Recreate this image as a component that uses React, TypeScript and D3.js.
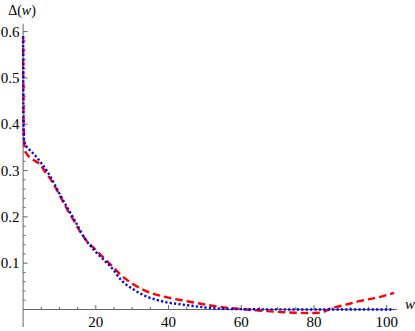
import React, { useEffect, useRef } from "react";
import * as d3 from "d3";

const redW = [0, 0.03, 0.08, 0.15, 0.3, 0.5, 1.0, 1.9, 3.0, 4.7, 6.0, 7.5, 8.8, 10.5, 12.0, 13.8, 15.7, 17.5, 19.8, 22.6, 24.8, 26.7, 30.4, 34, 38.6, 45, 50.6, 55.2, 60, 64, 68, 72, 75, 78, 81.5, 83, 84.6, 87, 90, 92.5, 95.6, 99, 102];
const redV = [0.59, 0.52, 0.45, 0.4, 0.36, 0.345, 0.336, 0.328, 0.322, 0.313, 0.298, 0.282, 0.265, 0.24, 0.218, 0.194, 0.168, 0.148, 0.13, 0.108, 0.091, 0.076, 0.054, 0.039, 0.028, 0.018, 0.01, 0.0045, 0.001, -0.002, -0.004, -0.006, -0.007, -0.0075, -0.007, -0.004, 0.0025, 0.007, 0.013, 0.018, 0.023, 0.029, 0.036];

const blueW = [0, 0.03, 0.06, 0.1, 0.2, 0.35, 1.0, 2.0, 3.7, 5.0, 6.5, 8.8, 10.2, 12.0, 14.3, 17.0, 19.8, 22.6, 24.8, 26.7, 30.4, 34, 38.6, 45, 50.6, 55.2, 60, 65, 70, 80, 90, 102];
const blueV = [0.59, 0.52, 0.46, 0.4, 0.37, 0.36, 0.351, 0.343, 0.329, 0.316, 0.3, 0.268, 0.247, 0.222, 0.191, 0.153, 0.126, 0.104, 0.086, 0.066, 0.043, 0.028, 0.017, 0.0095, 0.004, 0.0015, 0.0008, 0.0004, 0.0002, 0.0001, 0.0001, 0.0001];

const xTicks = [20, 40, 60, 80, 100];
const yTicks = [0.1, 0.2, 0.3, 0.4, 0.5, 0.6];

const App = () => {
  const ref = useRef<SVGSVGElement>(null);

  useEffect(() => {
    const svg = d3.select(ref.current);
    svg.selectAll("*").remove();

    const x = d3.scaleLinear().domain([0, 100]).range([23.1, 386.7]);
    const y = d3.scaleLinear().domain([0, 0.6]).range([309.5, 31.6]);
    const axisColor = "#666";
    const font = "'Liberation Serif', 'Times New Roman', serif";

    const g = svg.append("g");

    // axes lines
    g.append("line")
      .attr("x1", x(0)).attr("x2", x(102.8))
      .attr("y1", y(0)).attr("y2", y(0))
      .attr("stroke", axisColor).attr("stroke-width", 1);
    g.append("line")
      .attr("x1", x(0)).attr("x2", x(0))
      .attr("y1", y(-0.038)).attr("y2", y(0.617))
      .attr("stroke", axisColor).attr("stroke-width", 1);

    // x ticks: major every 20, minor every 5
    const xMinor = d3.range(5, 101, 5).filter((d) => d % 20 !== 0);
    g.selectAll(".xminor").data(xMinor).join("line")
      .attr("x1", (d) => x(d)).attr("x2", (d) => x(d))
      .attr("y1", y(0)).attr("y2", y(0) - 2.5)
      .attr("stroke", axisColor);
    g.selectAll(".xmajor").data(xTicks).join("line")
      .attr("x1", (d) => x(d)).attr("x2", (d) => x(d))
      .attr("y1", y(0)).attr("y2", y(0) - 4.5)
      .attr("stroke", axisColor);
    g.selectAll(".xlab").data(xTicks).join("text")
      .attr("x", (d) => x(d)).attr("y", 326.5)
      .attr("text-anchor", "middle")
      .attr("font-family", font).attr("font-size", 15)
      .text((d) => d);

    // y ticks: major every 0.1, minor every 0.02
    const yMinor = d3.range(1, 31).map((i) => i * 0.02).filter((d, i) => (i + 1) % 5 !== 0);
    g.selectAll(".yminor").data(yMinor).join("line")
      .attr("x1", x(0)).attr("x2", x(0) + 2.5)
      .attr("y1", (d) => y(d)).attr("y2", (d) => y(d))
      .attr("stroke", axisColor);
    g.selectAll(".ymajor").data(yTicks).join("line")
      .attr("x1", x(0)).attr("x2", x(0) + 4.5)
      .attr("y1", (d) => y(d)).attr("y2", (d) => y(d))
      .attr("stroke", axisColor);
    g.selectAll(".ylab").data(yTicks).join("text")
      .attr("x", 19.5).attr("y", (d) => y(d) + 5)
      .attr("text-anchor", "end")
      .attr("font-family", font).attr("font-size", 15)
      .text((d) => d3.format(".1f")(d));

    // axis labels
    const yl = g.append("text")
      .attr("x", 22).attr("y", 15)
      .attr("text-anchor", "middle")
      .attr("font-family", font).attr("font-size", 14);
    yl.append("tspan").text("Δ(");
    yl.append("tspan").attr("font-style", "italic").text("w");
    yl.append("tspan").text(")");

    g.append("text")
      .attr("x", 405).attr("y", 309)
      .attr("font-family", font).attr("font-size", 15)
      .attr("font-style", "italic")
      .text("w");

    const line = d3.line<[number, number]>()
      .x((d) => x(d[0]))
      .y((d) => y(d[1]))
      .curve(d3.curveMonotoneX);

    g.append("path")
      .attr("d", line(redW.map((w, i) => [w, redV[i]] as [number, number])))
      .attr("fill", "none").attr("stroke", "#ff0000")
      .attr("stroke-width", 2.4).attr("stroke-dasharray", "7.5,4");

    g.append("path")
      .attr("d", line(blueW.map((w, i) => [w, blueV[i]] as [number, number])))
      .attr("fill", "none").attr("stroke", "#0000ff")
      .attr("stroke-width", 2.4).attr("stroke-dasharray", "2.2,2.2");
  }, []);

  return (
    <svg
      ref={ref}
      width={415}
      height={331}
      style={{ position: "absolute", left: 0, top: 0, background: "#fff" }}
    />
  );
};

export default App;
